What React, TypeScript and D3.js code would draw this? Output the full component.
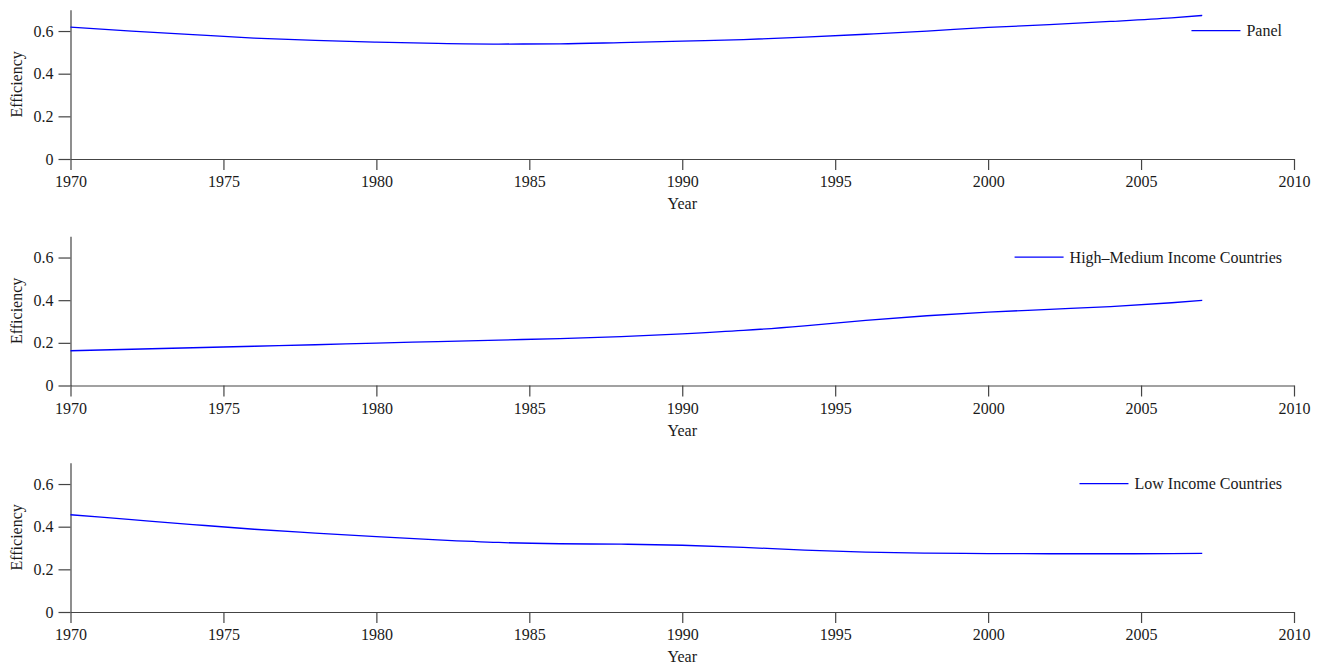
import * as d3 from "d3";
import { useEffect, useRef } from "react";

// years sampled along the smoothed efficiency curves
const years = [1970, 1972, 1974, 1976, 1978, 1980, 1982, 1984, 1986, 1988, 1990, 1992, 1994, 1996, 1998, 2000, 2002, 2004, 2006, 2007];

const panelValues = [0.618, 0.6, 0.583, 0.567, 0.556, 0.548, 0.542, 0.539, 0.54, 0.546, 0.553, 0.56, 0.571, 0.585, 0.6, 0.617, 0.63, 0.645, 0.662, 0.673];
const highMediumValues = [0.163, 0.17, 0.177, 0.184, 0.191, 0.199, 0.206, 0.213, 0.22, 0.229, 0.242, 0.258, 0.28, 0.305, 0.327, 0.344, 0.357, 0.37, 0.388, 0.399];
const lowValues = [0.456, 0.433, 0.41, 0.388, 0.37, 0.353, 0.338, 0.326, 0.32, 0.318, 0.313, 0.303, 0.29, 0.281, 0.276, 0.274, 0.273, 0.273, 0.274, 0.275];

const seriesNames = ["Panel", "High\u2013Medium Income Countries", "Low Income Countries"];
const seriesValues = [panelValues, highMediumValues, lowValues];

const xTicks = [1970, 1975, 1980, 1985, 1990, 1995, 2000, 2005, 2010];
const yTicks = [0, 0.2, 0.4, 0.6];

const width = 1327;
const height = 666;
const font = "'Liberation Serif', 'Times New Roman', serif";

function App() {
    const ref = useRef<SVGSVGElement>(null);

    useEffect(() => {
        const svg = d3.select(ref.current);
        svg.selectAll("*").remove();

        const left = 70.5;
        const right = 1294;
        const panelHeight = 149.3;
        const panelStep = 226.5;
        const firstZero = 159;

        const x = d3.scaleLinear().domain([1970, 2010]).range([left, right]);

        seriesValues.forEach((values, i) => {
            const zero = firstZero + panelStep * i;
            const y = d3.scaleLinear().domain([0, 0.7]).range([zero, zero - panelHeight]);
            const g = svg.append("g");

            // x axis
            const xa = g.append("g")
                .attr("transform", `translate(0,${zero})`)
                .call(d3.axisBottom(x).tickValues(xTicks).tickFormat(d3.format("d")).tickSize(11).tickSizeOuter(0).tickPadding(6));
            // y axis
            const ya = g.append("g")
                .attr("transform", `translate(${left},0)`)
                .call(d3.axisLeft(y).tickValues(yTicks).tickFormat((d) => (+d === 0 ? "0" : d3.format(".1f")(+d))).tickSize(12).tickSizeOuter(0).tickPadding(5));

            [xa, ya].forEach((a) => {
                a.select(".domain").attr("stroke", "#444").attr("stroke-width", 1.2);
                a.selectAll(".tick line").attr("stroke", "#444").attr("stroke-width", 1.2);
                a.selectAll(".tick text").attr("fill", "#1a1a1a").style("font-family", font).style("font-size", "16px");
            });

            // axis titles
            g.append("text")
                .attr("x", (left + right) / 2)
                .attr("y", zero + 50)
                .attr("text-anchor", "middle")
                .attr("fill", "#1a1a1a")
                .style("font-family", font)
                .style("font-size", "16px")
                .text("Year");

            g.append("text")
                .attr("transform", `translate(22,${zero - panelHeight / 2}) rotate(-90)`)
                .attr("text-anchor", "middle")
                .attr("fill", "#1a1a1a")
                .style("font-family", font)
                .style("font-size", "16px")
                .text("Efficiency");

            // curve
            const line = d3.line<number>()
                .x((_, j) => x(years[j]))
                .y((d) => y(d))
                .curve(d3.curveMonotoneX);

            g.append("path")
                .attr("d", line(values)!)
                .attr("fill", "none")
                .attr("stroke", "#0000ff")
                .attr("stroke-width", 1.3);

            // legend
            const ly = y(0.6) - 0.5;
            const lt = g.append("text")
                .attr("x", 1282)
                .attr("y", ly)
                .attr("text-anchor", "end")
                .attr("dominant-baseline", "central")
                .attr("fill", "#1a1a1a")
                .style("font-family", font)
                .style("font-size", "16px")
                .text(seriesNames[i]);
            const tw = (lt.node() as SVGTextElement).getComputedTextLength();
            const start = 1282 - tw;
            g.append("line")
                .attr("x1", start - 55)
                .attr("x2", start - 6)
                .attr("y1", ly)
                .attr("y2", ly)
                .attr("stroke", "#0000ff")
                .attr("stroke-width", 1.3);
        });
    }, []);

    return (
        <svg
            ref={ref}
            width={width}
            height={height}
            style={{ position: "absolute", left: 0, top: 0, background: "#fff" }}
        />
    );
}

export default App;
